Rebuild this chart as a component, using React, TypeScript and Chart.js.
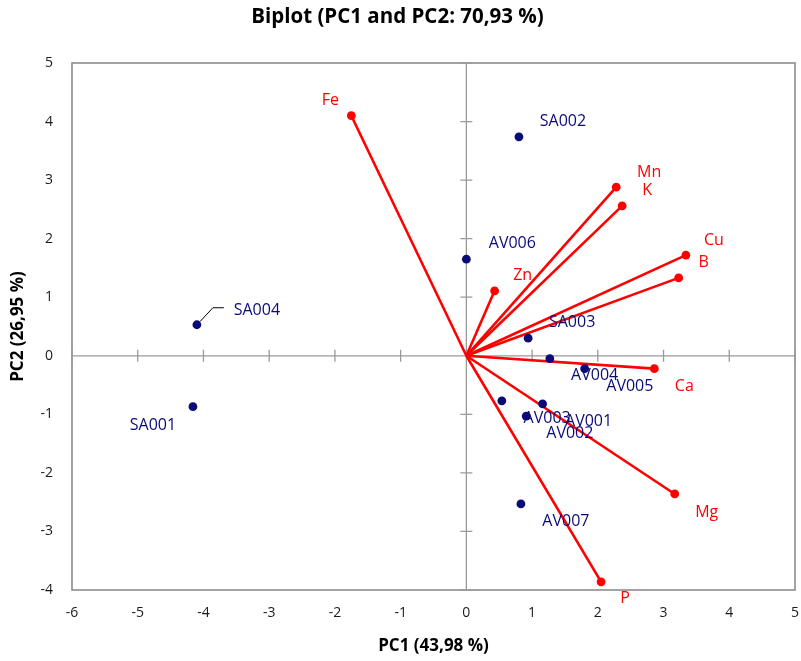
import React, { useEffect, useRef } from "react";
import { Chart, registerables } from "chart.js";

Chart.register(...registerables);

// ---- Data ----
const obsNames = ["AV001", "AV002", "AV003", "AV004", "AV005", "AV006", "AV007", "SA001", "SA002", "SA003", "SA004"];
const obsPC1 = [1.16, 0.54, 0.91, 1.8, 1.27, 0.0, 0.83, -4.16, 0.8, 0.94, -4.1];
const obsPC2 = [-0.82, -0.77, -1.03, -0.22, -0.05, 1.65, -2.53, -0.87, 3.74, 0.3, 0.53];

const varNames = ["Fe", "Mn", "K", "Cu", "B", "Zn", "Ca", "Mg", "P"];
const varPC1 = [-1.75, 2.28, 2.37, 3.34, 3.23, 0.43, 2.86, 3.17, 2.05];
const varPC2 = [4.1, 2.88, 2.56, 1.72, 1.33, 1.11, -0.22, -2.36, -3.86];

const xTicks = [-6, -5, -4, -3, -2, -1, 0, 1, 2, 3, 4, 5];
const yTicks = [-4, -3, -2, -1, 0, 1, 2, 3, 4, 5];

const titleText = "Biplot (PC1 and PC2: 70,93 %)";
const xTitle = "PC1 (43,98 %)";
const yTitle = "PC2 (26,95 %)";

// ---- Styles (label offsets in pixels, relative to the point) ----
const obsLabelOffsets: [number, number][] = [
  [46, 18], [68, 33], [21, 2], [10, 7], [80, 28], [46, -16], [45, 18], [-40, 19], [44, -15], [44, -16], [60, -14],
];
const varLabelOffsets: [number, number][] = [
  [-21, -15], [33, -15], [25, -15], [28, -15], [25, -15], [28, -15], [30, 18], [32, 18], [24, 17],
];
const leaderIndex = 10; // SA004
const leaderPath: [number, number][] = [[3, -3], [16, -17], [27, -17]];

const NAVY = "#0b0b78";
const RED = "#ff0000";
const FONT = '"Open Sans", "Noto Sans", sans-serif';

const biplotPlugin = {
  id: "biplotDecor",
  beforeDatasetsDraw(chart: any) {
    const { ctx, chartArea: a, scales } = chart;
    const x = scales.x;
    const y = scales.y;
    ctx.save();
    ctx.strokeStyle = "#8c8c8c";
    ctx.lineWidth = 1.6;
    ctx.strokeRect(a.left, a.top, a.right - a.left, a.bottom - a.top);
    const x0 = x.getPixelForValue(0);
    const y0 = y.getPixelForValue(0);
    ctx.strokeStyle = "#9a9a9a";
    ctx.lineWidth = 1.3;
    ctx.beginPath();
    ctx.moveTo(a.left, y0);
    ctx.lineTo(a.right, y0);
    ctx.moveTo(x0, a.top);
    ctx.lineTo(x0, a.bottom);
    xTicks.forEach((v) => {
      const px = x.getPixelForValue(v);
      ctx.moveTo(px, y0 - 6);
      ctx.lineTo(px, y0 + 6);
    });
    yTicks.forEach((v) => {
      const py = y.getPixelForValue(v);
      ctx.moveTo(x0 - 6, py);
      ctx.lineTo(x0 + 6, py);
    });
    ctx.stroke();
    ctx.restore();
  },
  afterDatasetsDraw(chart: any) {
    const { ctx, scales } = chart;
    const x = scales.x;
    const y = scales.y;
    ctx.save();
    ctx.font = `16px ${FONT}`;
    ctx.textAlign = "center";
    ctx.textBaseline = "middle";
    // leader line for SA004
    {
      const px = x.getPixelForValue(obsPC1[leaderIndex]);
      const py = y.getPixelForValue(obsPC2[leaderIndex]);
      ctx.strokeStyle = "#000";
      ctx.lineWidth = 1;
      ctx.beginPath();
      leaderPath.forEach(([dx, dy], i) => {
        if (i === 0) ctx.moveTo(px + dx, py + dy);
        else ctx.lineTo(px + dx, py + dy);
      });
      ctx.stroke();
    }
    ctx.fillStyle = NAVY;
    obsNames.forEach((name, i) => {
      const px = x.getPixelForValue(obsPC1[i]);
      const py = y.getPixelForValue(obsPC2[i]);
      ctx.fillText(name, px + obsLabelOffsets[i][0], py + obsLabelOffsets[i][1]);
    });
    ctx.fillStyle = RED;
    varNames.forEach((name, i) => {
      const px = x.getPixelForValue(varPC1[i]);
      const py = y.getPixelForValue(varPC2[i]);
      ctx.fillText(name, px + varLabelOffsets[i][0], py + varLabelOffsets[i][1]);
    });
    ctx.restore();
  },
};

export default function App() {
  const canvasRef = useRef<HTMLCanvasElement | null>(null);

  useEffect(() => {
    if (!canvasRef.current) return;
    const datasets: any[] = [
      {
        label: "Observations",
        data: obsPC1.map((v, i) => ({ x: v, y: obsPC2[i] })),
        backgroundColor: NAVY,
        borderColor: NAVY,
        pointRadius: 4.4,
        pointBorderWidth: 0,
        showLine: false,
      },
      ...varNames.map((name, i) => ({
        label: name,
        data: [
          { x: 0, y: 0 },
          { x: varPC1[i], y: varPC2[i] },
        ],
        showLine: true,
        borderColor: RED,
        borderWidth: 2.6,
        backgroundColor: RED,
        pointBackgroundColor: RED,
        pointBorderColor: RED,
        pointBorderWidth: 0,
        pointRadius: [0, 4.4],
      })),
    ];

    const chart = new Chart(canvasRef.current, {
      type: "scatter",
      data: { datasets },
      plugins: [biplotPlugin],
      options: {
        animation: false,
        responsive: false,
        layout: { padding: { top: 0, right: 6, bottom: 0, left: 0 } },
        plugins: {
          legend: { display: false },
          tooltip: { enabled: false },
          title: {
            display: true,
            text: titleText,
            color: "#000",
            font: { family: FONT, size: 20.5, weight: "bold" },
            padding: { top: 5, bottom: 33.4 },
          },
        },
        scales: {
          x: {
            type: "linear",
            min: -6,
            max: 5,
            afterBuildTicks: (scale: any) => {
              scale.ticks = xTicks.map((v) => ({ value: v }));
            },
            afterFit: (scale: any) => {
              scale.height = 71;
              scale.paddingLeft = 0;
              scale.paddingRight = 0;
            },
            grid: { display: false, drawTicks: false },
            border: { display: false },
            ticks: { color: "#1a1a1a", padding: 15, font: { family: FONT, size: 14 } },
            title: {
              display: true,
              text: xTitle,
              color: "#000",
              font: { family: FONT, size: 17, weight: "bold" },
              padding: { top: 0, bottom: 5 },
            },
          },
          y: {
            type: "linear",
            min: -4,
            max: 5,
            afterBuildTicks: (scale: any) => {
              scale.ticks = yTicks.map((v) => ({ value: v }));
            },
            afterFit: (scale: any) => {
              scale.width = 72;
              scale.paddingTop = 0;
              scale.paddingBottom = 0;
            },
            grid: { display: false, drawTicks: false },
            border: { display: false },
            ticks: { color: "#1a1a1a", padding: 19, font: { family: FONT, size: 14 } },
            title: {
              display: true,
              text: yTitle,
              color: "#000",
              font: { family: FONT, size: 17, weight: "bold" },
              padding: { top: 8, bottom: 0 },
            },
          },
        },
      } as any,
    });
    return () => chart.destroy();
  }, []);

  return (
    <div style={{ position: "fixed", left: 0, top: 0, width: 801, height: 661, background: "#fff" }}>
      <canvas ref={canvasRef} width={801} height={661} style={{ display: "block" }} />
    </div>
  );
}
